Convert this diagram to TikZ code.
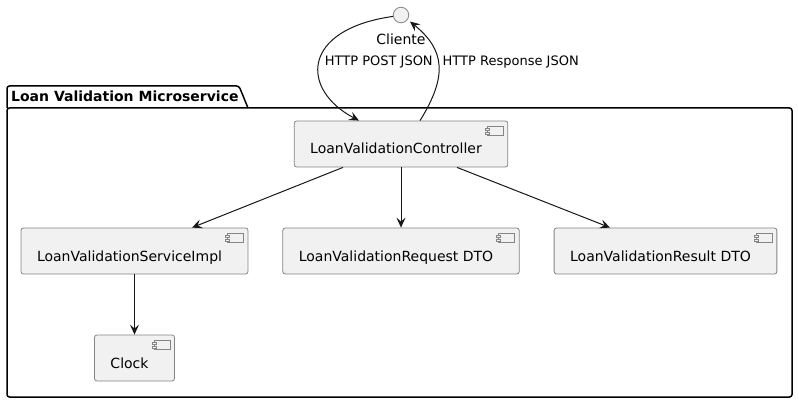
\documentclass[tikz,border=0pt]{standalone}
\usepackage{fontspec}
\setmainfont{DejaVu Sans}
\usetikzlibrary{calc,arrows.meta}
\definecolor{boxfill}{HTML}{F1F1F1}
\definecolor{ink}{HTML}{181818}
\definecolor{boxline}{HTML}{858585}
\begin{document}
\begin{tikzpicture}[x=1pt,y=-1pt,
  comp/.style={draw=boxline, line width=0.8pt, fill=boxfill, rounded corners=2.5pt,
    font=\fontsize{14pt}{16pt}\selectfont, minimum height=46pt, inner xsep=16pt,
    inner ysep=0pt, text height=20pt, text depth=0pt},
  link/.style={draw=ink, line width=1pt, -{Stealth[length=10pt,width=9pt,inset=4pt]}},
  elabel/.style={font=\fontsize{13pt}{15pt}\selectfont, text=black, inner sep=0pt},
  pkg/.style={draw=black, line width=1.5pt},
  icon/.style={draw=boxline, line width=0.8pt, fill=boxfill}
]
\fill[white] (0,0) rectangle (799,403);
\useasboundingbox (0,0) rectangle (799,403);

% package
\draw[pkg, rounded corners=2.5pt] (7,108) rectangle (792,397);
\draw[pkg] (7,108) [rounded corners=2.5pt] -- (7,86) -- (239,86) [sharp corners] -- (248,108);
\node[font=\bfseries\fontsize{14pt}{16pt}\selectfont, anchor=west, inner sep=0pt] (pkgt) at (11,96) {Loan Validation Microservice};

% nodes
\node[circle, draw=boxline, line width=0.8pt, fill=boxfill, minimum size=15.5pt, inner sep=0pt] (cli) at (401,15) {};
\node[font=\fontsize{14pt}{16pt}\selectfont, inner sep=0pt] (clilbl) at (401,39) {Cliente};

\node[comp] (ctrl) at (401,144) {LoanValidationController\hspace*{10pt}};
\node[comp] (impl) at (134.5,251) {LoanValidationServiceImpl\hspace*{10pt}};
\node[comp] (req) at (401,251) {LoanValidationRequest DTO\hspace*{10pt}};
\node[comp] (res) at (665.5,251) {LoanValidationResult DTO\hspace*{10pt}};
\node[comp] (clock) at (134.5,358) {Clock\hspace*{10pt}};

\foreach \n in {ctrl,impl,req,res,clock}{
  \begin{scope}[shift={(\n.north east)}]
    \draw[icon] (-21,6) rectangle (-5,15);
    \draw[icon] (-23,8) rectangle (-19,10);
    \draw[icon] (-23,12) rectangle (-19,14);
  \end{scope}
}

% connectors
\draw[link] (cli.190) .. controls +(-92,13) and +(-59,-31) .. ($(ctrl.north)+(-42,0)$)
  node[elabel, pos=0.5, anchor=west, xshift=5pt] {HTTP POST JSON};
\draw[link, shorten >=3pt] ($(ctrl.north)+(19,0)$) .. controls +(28,-45) and +(37,30) .. (cli.-35)
  node[elabel, pos=0.5, anchor=west, xshift=4pt, yshift=2pt] {HTTP Response JSON};

\draw[link] ($(ctrl.south)+(-58,0)$) -- ($(impl.north)+(57.5,0)$);
\draw[link] (ctrl.south) -- (req.north);
\draw[link] ($(ctrl.south)+(56,0)$) -- ($(res.north)+(-55.5,0)$);
\draw[link] (impl.south) -- (clock.north);
\end{tikzpicture}
\end{document}
